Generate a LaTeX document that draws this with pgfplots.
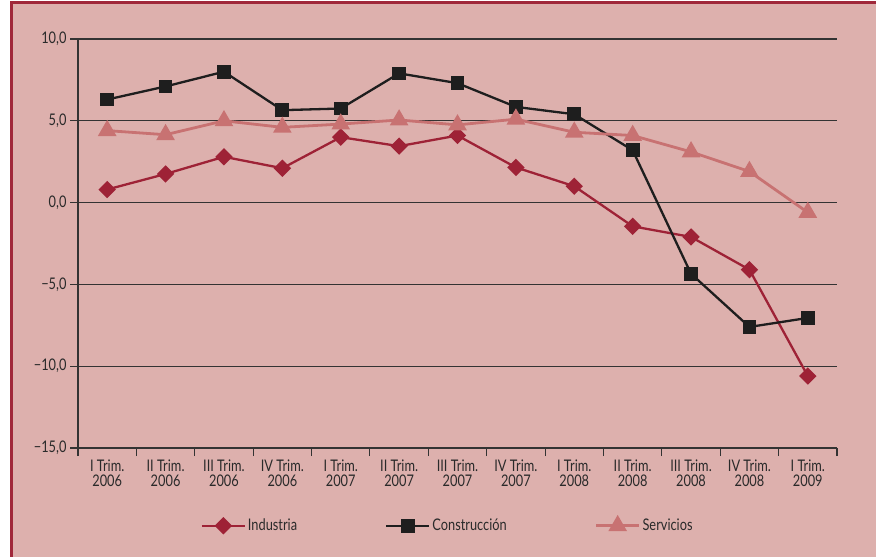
\documentclass[border=0pt]{standalone}
\usepackage{fontspec}
\setmainfont{Lato}[FakeStretch=0.8]
\usepackage{pgfplots}
\pgfplotsset{compat=1.18}
\definecolor{bg}{HTML}{DDB0AD}
\definecolor{frm}{HTML}{A0283A}
\definecolor{ind}{HTML}{9E2236}
\definecolor{con}{HTML}{1E1E1E}
\definecolor{ser}{HTML}{C87272}
\definecolor{grd}{HTML}{333333}
\definecolor{txt}{HTML}{2A2A2A}
\begin{document}
\begin{tikzpicture}[x=1pt,y=1pt]
\useasboundingbox (0,0) rectangle (876,557);
\fill[white] (0,0) rectangle (876,557);
\fill[bg] (11,0) rectangle (876,554);
\draw[frm, line width=2.8pt] (11.4,0) -- (11.4,554.6) -- (876,554.6);
\begin{axis}[
  at={(78pt,109pt)}, anchor=south west,
  scale only axis, width=759pt, height=409pt,
  xmin=0.5, xmax=13.5, ymin=-15, ymax=10,
  axis lines*=left,
  axis line style={grd, line width=1.1pt},
  tick style={grd, line width=1.1pt},
  tick align=outside,
  major tick length=8pt,
  ytick={-15,-10,-5,0,5,10},
  yticklabels={{−15,0},{−10,0},{−5,0},{0,0},{5,0},{10,0}},
  ymajorgrids,
  grid style={grd, line width=1.1pt},
  xtick={0.5,1.5,...,13.5},
  x tick label as interval,
  xticklabels={{I Trim.\\2006},{II Trim.\\2006},{III Trim.\\2006},{IV Trim.\\2006},
    {I Trim.\\2007},{II Trim.\\2007},{III Trim.\\2007},{IV Trim.\\2007},
    {I Trim.\\2008},{II Trim.\\2008},{III Trim.\\2008},{IV Trim.\\2008},{I Trim.\\2009}},
  xticklabel style={align=center, font=\fontsize{16}{15.5}\selectfont, text=txt},
  yticklabel style={font=\fontsize{16}{15.5}\selectfont, text=txt},
  legend columns=3,
  legend style={draw=none, fill=none, at={(0.487,-0.19)}, anchor=center,
    font=\fontsize{16}{15.5}\selectfont, text=txt,
    /tikz/every even column/.append style={column sep=86pt}},
  legend image code/.code={\draw[mark repeat=2,mark phase=2] plot coordinates {(0pt,0pt)(21.5pt,0pt)(43pt,0pt)};},
]
\addplot[ind, line width=2.3pt, mark=square*, mark size=5pt, mark options={rotate=45, solid}] coordinates {
(1,0.8)(2,1.75)(3,2.8)(4,2.1)(5,4.0)(6,3.45)(7,4.1)(8,2.15)(9,1.0)(10,-1.45)(11,-2.1)(12,-4.1)(13,-10.6)};
\addlegendentry{Industria}
\addplot[con, line width=2.3pt, mark=square*, mark size=5.7pt, mark options={solid}] coordinates {
(1,6.3)(2,7.1)(3,8.0)(4,5.65)(5,5.75)(6,7.9)(7,7.3)(8,5.85)(9,5.4)(10,3.2)(11,-4.35)(12,-7.6)(13,-7.05)};
\addlegendentry{Construcción}
\addplot[ser, line width=2.8pt, mark=triangle*, mark size=8pt, mark options={solid}] coordinates {
(1,4.4)(2,4.15)(3,5.0)(4,4.6)(5,4.8)(6,5.05)(7,4.75)(8,5.1)(9,4.3)(10,4.1)(11,3.1)(12,1.9)(13,-0.6)};
\addlegendentry{Servicios}
\end{axis}
\end{tikzpicture}
\end{document}
